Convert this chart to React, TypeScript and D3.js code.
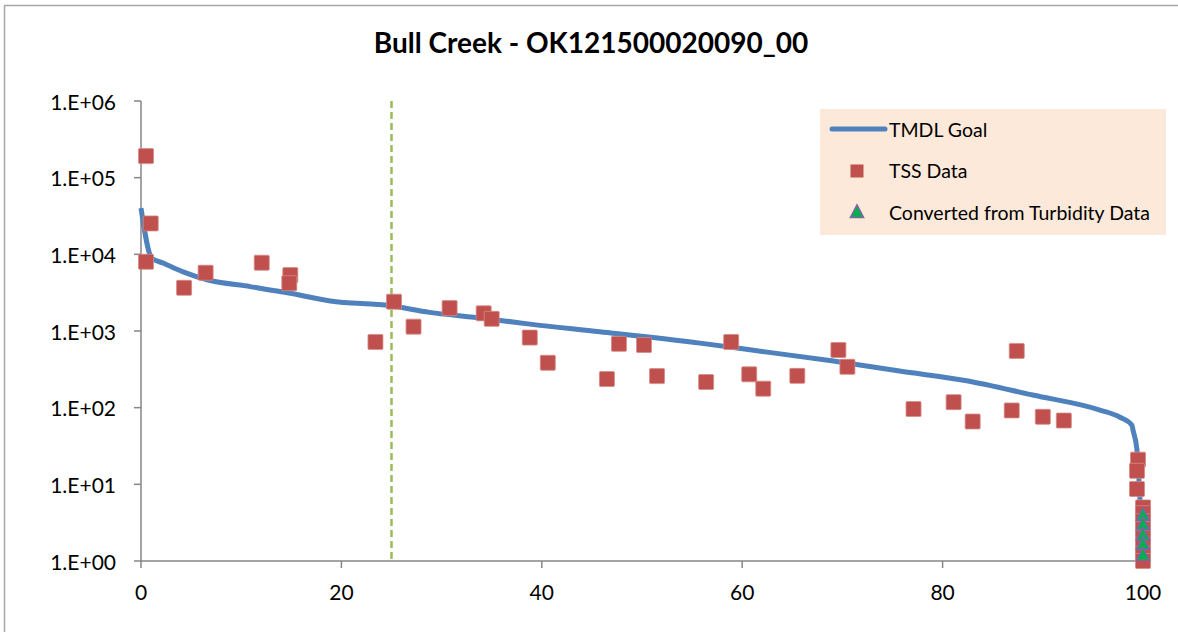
import React from "react";
import * as d3 from "d3";

const W = 1178;
const H = 632;

const TITLE = "Bull Creek - OK121500020090_00";

// TMDL Goal curve: percent of days exceeded vs load
const goalX = [0, 1.07, 2.2, 4.2, 6.6, 10.9, 14.9, 18.9, 24.9, 28.8, 34.1, 38.8, 45.8, 55.8, 62.5, 69.1, 75.7, 82.4, 89.0, 95.7, 97.7, 98.9, 99.0, 99.4, 99.7, 100];
const goalY = [40000, 8950, 7700, 5900, 4660, 3790, 3100, 2460, 2130, 1750, 1470, 1230, 980, 695, 530, 405, 300, 225, 146, 93, 75, 59, 51, 28, 6.2, 1];

// TSS data
const tssX = [0.5, 0.97, 0.5, 4.3, 6.45, 12.05, 14.9, 14.8, 23.4, 25.25, 27.2, 30.8, 34.2, 35.0, 38.8, 40.6, 46.5, 47.7, 50.2, 51.5, 56.4, 58.9, 60.7, 62.1, 65.5, 69.6, 70.5, 77.1, 81.1, 83.0, 86.9, 87.4, 90.0, 92.1, 99.5, 99.4, 99.4, 100, 100, 100, 100, 100, 100, 100, 100];
const tssY = [191000, 25300, 8000, 3660, 5750, 7770, 5360, 4200, 720, 2410, 1140, 1990, 1700, 1440, 820, 385, 236, 680, 655, 258, 216, 720, 272, 177, 260, 565, 341, 96, 118, 66, 92, 550, 76, 68, 21, 15, 8.7, 5, 4.2, 3.3, 2.6, 2, 1.6, 1.25, 1];

// Converted from turbidity data
const turbX = [100, 100, 100, 100, 100];
const turbY = [4.0, 3.0, 2.2, 1.67, 1.2];

const xTicks = [0, 20, 40, 60, 80, 100];
const yTicks = [1, 10, 100, 1000, 10000, 100000, 1000000];
const yTickLabels = ["1.E+00", "1.E+01", "1.E+02", "1.E+03", "1.E+04", "1.E+05", "1.E+06"];

const refLineX = 25;

const legendItems = ["TMDL Goal", "TSS Data", "Converted from Turbidity Data"];

const FONT = "Lato, 'Open Sans', sans-serif";
const BLUE = "#4F81BD";
const RED = "#C0504D";
const GREEN = "#9BBB59";
const AXIS = "#868686";

export default function App() {
  const x = d3.scaleLinear().domain([0, 100]).range([141, 1143]);
  const y = d3.scaleLog().domain([1, 1000000]).range([561, 101]);

  const line = d3
    .line<number>()
    .x((_, i) => x(goalX[i]))
    .y((d) => y(d))
    .curve(d3.curveMonotoneX);

  const sq = 15;
  const tri = (cx: number, cy: number, s: number) =>
    `M${cx},${cy - s * 0.6} L${cx + s * 0.55},${cy + s * 0.45} L${cx - s * 0.55},${cy + s * 0.45} Z`;

  return (
    <svg
      width={W}
      height={H}
      style={{ position: "absolute", left: 0, top: 0, background: "#fff" }}
      fontFamily={FONT}
    >
      <rect x={0} y={0} width={W} height={H} fill="#fff" />
      {/* outer frame */}
      <line x1={4.5} y1={5.5} x2={4.5} y2={H} stroke="#A6A6A6" strokeWidth={1.5} />
      <line x1={4} y1={5.5} x2={W} y2={5.5} stroke="#A6A6A6" strokeWidth={1.5} />

      {/* title */}
      <text x={591} y={46} textAnchor="middle" dominantBaseline="middle" fontSize={28} fontWeight="bold" fill="#000">
        {TITLE}
      </text>

      {/* axes */}
      <line x1={x(0)} y1={y(1000000)} x2={x(0)} y2={y(1)} stroke={AXIS} strokeWidth={1.5} />
      <line x1={x(0)} y1={y(1)} x2={x(100)} y2={y(1)} stroke={AXIS} strokeWidth={1.5} />
      {yTicks.map((t, i) => (
        <g key={"yt" + i}>
          <line x1={x(0) - 7} x2={x(0)} y1={y(t)} y2={y(t)} stroke={AXIS} strokeWidth={1.5} />
          <text x={116} y={y(t)} textAnchor="end" dominantBaseline="central" fontSize={21} fill="#000">
            {yTickLabels[i]}
          </text>
        </g>
      ))}
      {xTicks.map((t) => (
        <g key={"xt" + t}>
          <line x1={x(t)} x2={x(t)} y1={y(1)} y2={y(1) + 7} stroke={AXIS} strokeWidth={1.5} />
          <text x={x(t)} y={591} textAnchor="middle" dominantBaseline="central" fontSize={21} fill="#000">
            {t}
          </text>
        </g>
      ))}

      {/* reference dashed line */}
      <line
        x1={x(refLineX)}
        x2={x(refLineX)}
        y1={y(1000000)}
        y2={y(1)}
        stroke={GREEN}
        strokeWidth={2.5}
        strokeDasharray="7,4"
      />

      {/* TMDL goal */}
      <path d={line(goalY) || ""} fill="none" stroke={BLUE} strokeWidth={5} strokeLinejoin="round" />

      {/* TSS data */}
      {tssY.map((v, i) => (
        <rect
          key={"s" + i}
          x={x(tssX[i]) - sq / 2}
          y={y(v) - sq / 2}
          width={sq}
          height={sq}
          fill={RED}
          stroke="#D48A88"
          strokeWidth={0.8}
          rx={1}
        />
      ))}

      {/* Turbidity converted */}
      {turbY.map((v, i) => (
        <path key={"t" + i} d={tri(x(turbX[i]), y(v), 12)} fill="#00B050" stroke="#8064A2" strokeWidth={1.5} />
      ))}

      {/* legend */}
      <rect x={820} y={109} width={346} height={126} fill="#FDE9D9" />
      <line x1={832} x2={885} y1={129} y2={129} stroke={BLUE} strokeWidth={5} strokeLinecap="round" />
      <rect x={857 - 6.5} y={171 - 6.5} width={13} height={13} fill={RED} />
      <path d={tri(857, 212, 12)} fill="#00B050" stroke="#8064A2" strokeWidth={1.5} />
      {legendItems.map((s, i) => (
        <text key={"l" + i} x={889} y={129 + i * 41.5} dominantBaseline="central" fontSize={19.5} fill="#000">
          {s}
        </text>
      ))}
    </svg>
  );
}
